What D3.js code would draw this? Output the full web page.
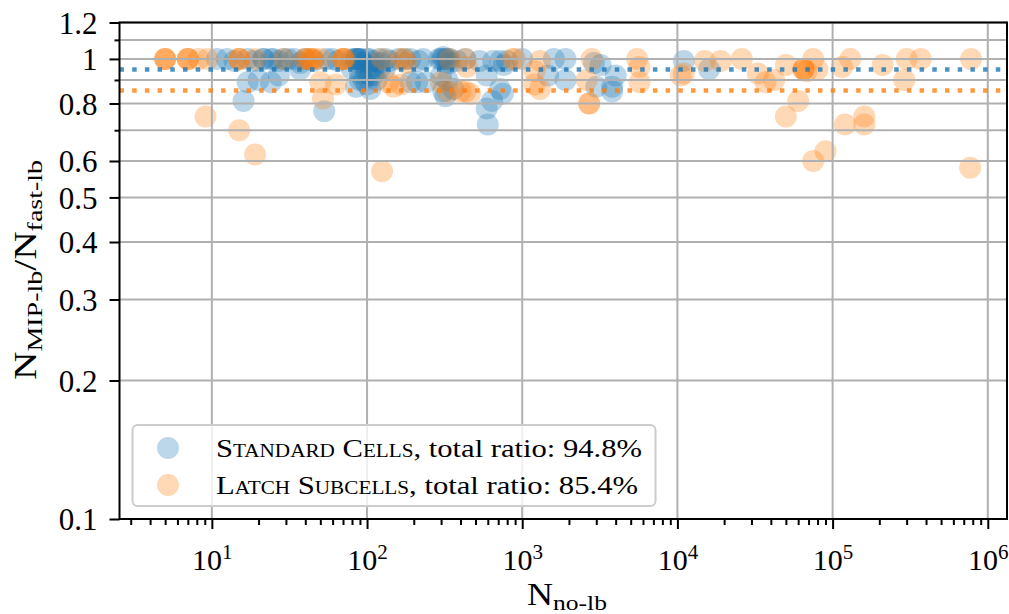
<!DOCTYPE html>
<html>
<head>
<meta charset="utf-8">
<title>MIP-lb / fast-lb ratio</title>
<style>
  body { margin: 0; background: #fff; }
  svg { display: block; font-family: "Liberation Serif", "DejaVu Serif", serif; }
  svg text { font-family: "Liberation Serif", "DejaVu Serif", serif; fill: #000; }
  .grid line { stroke: #b0b0b0; stroke-width: 2; }
  .axis path { display: none; }
  .axis line { stroke: #000; stroke-width: 2; }
</style>
</head>
<body>
<svg id="chart" width="1009" height="614"></svg>
<script src="https://cdn.jsdelivr.net/npm/d3@7/dist/d3.min.js"></script>
<script>
// standard cells: N_no-lb and ratio
var stdX = [10.8, 12.5, 14, 17, 19, 21.5, 21.5, 24, 25, 27, 29, 31, 34, 37, 40, 45, 55, 60, 65,
  80, 85, 85, 88, 90, 95, 100, 103, 110, 120, 133, 140, 160, 175, 190, 215, 230, 290, 310, 310,
  330, 340, 380, 430, 530, 650, 720, 760, 800, 1000, 1600, 1900, 2900, 3200, 11000,
  85, 90, 95, 100, 110, 120, 300, 320, 340, 90, 105,
  16, 17, 20, 24, 27, 37, 53, 80, 85, 90, 95, 100, 105, 110, 115, 120, 130, 190, 210, 240,
  300, 310, 320, 330, 360, 590, 590, 600, 640, 720, 750, 1470, 1900, 3000, 3800, 3800, 4000, 16000];
var stdY = [1, 1, 0.99, 1, 0.99, 1, 1, 1, 1, 0.99, 1, 1, 1, 0.98, 1, 0.99, 1, 1, 0.99,
  1, 1, 1, 1, 1, 0.98, 1, 1, 0.99, 1, 1, 0.99, 1, 1, 1, 0.99, 1, 1, 1, 1.01,
  1, 0.98, 0.99, 1, 0.99, 0.99, 0.99, 0.97, 0.99, 1, 1, 1, 0.98, 0.97, 0.99,
  1, 1, 0.96, 0.93, 0.96, 0.98, 1, 1, 1, 0.9, 0.92,
  0.81, 0.89, 0.9, 0.89, 0.92, 0.95, 0.77, 0.95, 0.87, 0.93, 0.9, 0.88, 0.86, 0.92, 0.9, 0.95, 0.95, 0.89, 0.89, 0.89,
  0.92, 0.85, 0.83, 0.9, 0.86, 0.92, 0.78, 0.72, 0.81, 0.86, 0.84, 0.92, 0.9, 0.87, 0.87, 0.85, 0.92, 0.95];

// latch subcells
var latchX = [5, 5, 5, 7, 7, 7, 8.2, 9.4, 15, 15, 15, 19, 29, 40, 40, 43, 43, 45, 45, 50, 70, 70, 70, 72,
  125, 165, 175, 180, 340, 430, 440, 870, 900, 1300, 2800, 5500, 15000, 19000, 26000,
  75000, 130000, 300000, 370000, 780000,
  9.1, 15, 19, 125, 50, 52, 63, 137, 148, 165, 300, 330, 400, 430, 460, 1200, 1200, 1300,
  2600, 2700, 2700, 5700, 5700, 10500, 11000, 33000, 37000, 42000, 50000, 60000, 50000,
  65000, 65000, 65000, 68000, 80000, 90000, 75000, 115000, 120000, 160000, 160000, 210000, 290000, 770000];
var latchY = [1, 1, 1, 1, 1, 1, 1, 1, 1, 1, 1, 1, 1, 1, 1, 1, 1, 1, 1, 1, 1, 1, 1, 1,
  1, 1, 1, 0.98, 1, 1, 0.96, 1, 1, 0.99, 1, 1, 0.99, 0.99, 1,
  1, 1, 1, 1, 1,
  0.75, 0.70, 0.62, 0.57, 0.89, 0.82, 0.88, 0.89, 0.87, 0.88, 0.89, 0.85, 0.85, 0.85, 0.84, 0.94, 0.88, 0.86,
  0.9, 0.8, 0.8, 0.96, 0.89, 0.92, 0.93, 0.93, 0.89, 0.9, 0.97, 0.81, 0.75,
  0.95, 0.95, 0.95, 0.94, 0.95, 0.63, 0.6, 0.96, 0.72, 0.75, 0.72, 0.97, 0.9, 0.58];

var seriesNames = ["Standard Cells", "Latch Subcells"];
var totalRatios = [0.948, 0.854];
var colors = ["#1f77b4", "#ff7f0e"];

var yMajor = [0.1, 0.2, 0.3, 0.4, 0.5, 0.6, 0.8, 1, 1.2];
var yMinor = [0.7, 0.9, 1.1];
var xMajor = [1e1, 1e2, 1e3, 1e4, 1e5, 1e6];

var plotL = 119.5, plotR = 1007, plotT = 22.5, plotB = 519;
var svg = d3.select("#chart");

var x = d3.scaleLog().domain([2.54, 1.33e6]).range([plotL, plotR]);
var y = d3.scaleLog().domain([0.1, 1.2]).range([plotB, plotT]);

var xMinor = [];
for (var e = 0; e <= 6; e++) {
  for (var m = 2; m <= 9; m++) {
    var v = m * Math.pow(10, e);
    if (v > x.domain()[0] && v < x.domain()[1]) xMinor.push(v);
  }
}

// points
var plot = svg.append("g");
[[stdX, stdY], [latchX, latchY]].forEach(function (s, i) {
  plot.append("g")
    .selectAll("circle")
    .data(d3.zip(s[0], s[1]))
    .enter()
    .append("circle")
    .attr("cx", function (d) { return x(d[0]); })
    .attr("cy", function (d) { return y(d[1]); })
    .attr("r", 11)
    .style("fill", colors[i])
    .style("fill-opacity", 0.3);
});

// grid (drawn above the markers like matplotlib)
var grid = svg.append("g").attr("class", "grid");
grid.selectAll(".gx").data(xMajor).enter().append("line")
  .attr("x1", function (d) { return x(d); }).attr("x2", function (d) { return x(d); })
  .attr("y1", plotT).attr("y2", plotB);
grid.selectAll(".gy").data(yMajor.concat(yMinor)).enter().append("line")
  .attr("x1", plotL).attr("x2", plotR)
  .attr("y1", function (d) { return y(d); }).attr("y2", function (d) { return y(d); });

// total ratio lines
svg.append("g").selectAll("line")
  .data(totalRatios)
  .enter()
  .append("line")
  .attr("x1", plotL).attr("x2", plotR)
  .attr("y1", function (d) { return y(d); }).attr("y2", function (d) { return y(d); })
  .style("stroke", function (d, i) { return colors[i]; })
  .style("stroke-opacity", 0.8)
  .style("stroke-width", 4.5)
  .style("stroke-dasharray", "4.5 8.2");

// axes
svg.append("g").attr("class", "axis")
  .attr("transform", "translate(0," + plotB + ")")
  .call(d3.axisBottom(x).tickValues(xMinor).tickSize(6).tickFormat(""));
var xAx = svg.append("g").attr("class", "axis")
  .attr("transform", "translate(0," + plotB + ")")
  .call(d3.axisBottom(x).tickValues(xMajor).tickSize(10).tickFormat(""));
xAx.selectAll(".tick text").remove();
xAx.selectAll(".tick").append("text")
  .attr("y", 51)
  .attr("text-anchor", "middle")
  .style("font-size", "30px")
  .each(function (d) {
    var t = d3.select(this);
    t.append("tspan").text("10");
    t.append("tspan").attr("dy", -11).style("font-size", "21px").text(Math.round(Math.log10(d)));
  });

svg.append("g").attr("class", "axis")
  .attr("transform", "translate(" + plotL + ",0)")
  .call(d3.axisLeft(y).tickValues(yMinor).tickSize(5).tickFormat(""));
var yAx = svg.append("g").attr("class", "axis")
  .attr("transform", "translate(" + plotL + ",0)")
  .call(d3.axisLeft(y).tickValues(yMajor).tickSize(10).tickPadding(12)
    .tickFormat(function (d) { return d3.format("~g")(d); }));
yAx.selectAll(".tick text")
  .style("font-size", "31px")
  .attr("dy", "0.35em");

// frame
svg.append("rect")
  .attr("x", plotL).attr("y", plotT)
  .attr("width", plotR - plotL).attr("height", plotB - plotT)
  .style("fill", "none").style("stroke", "#000").style("stroke-width", 2);

// axis labels (stretched a little: the original font is wider)
var xl = svg.append("text")
  .attr("x", 527).attr("y", 605)
  .attr("textLength", 80).attr("lengthAdjust", "spacingAndGlyphs")
  .style("font-size", "31px");
xl.append("tspan").text("N");
xl.append("tspan").attr("dy", 5).style("font-size", "22px").text("no-lb");

var yl = svg.append("text")
  .attr("transform", "translate(36,380) rotate(-90)")
  .attr("textLength", 220).attr("lengthAdjust", "spacingAndGlyphs")
  .style("font-size", "31px");
yl.append("tspan").text("N");
yl.append("tspan").attr("dy", 6).style("font-size", "22px").text("MIP-lb");
yl.append("tspan").attr("dy", -6).text("/N");
yl.append("tspan").attr("dy", 6).style("font-size", "22px").text("fast-lb");

// legend
var legendWidths = [426, 422];
var lg = svg.append("g");
lg.append("rect")
  .attr("x", 132.5).attr("y", 425)
  .attr("width", 523).attr("height", 81)
  .attr("rx", 5)
  .style("fill", "#fff").style("fill-opacity", 0.8)
  .style("stroke", "#cccccc").style("stroke-width", 2);
seriesNames.forEach(function (name, i) {
  var cy = 448 + i * 37;
  lg.append("circle")
    .attr("cx", 168).attr("cy", cy).attr("r", 11)
    .style("fill", colors[i]).style("fill-opacity", 0.3);
  var t = lg.append("text")
    .attr("x", 216).attr("y", cy + 9)
    .attr("textLength", legendWidths[i]).attr("lengthAdjust", "spacingAndGlyphs")
    .style("font-size", "26px");
  t.append("tspan").style("font-variant", "small-caps").text(name);
  t.append("tspan").text(", total ratio: " + d3.format(".1f")(totalRatios[i] * 100) + "%");
});
</script>
</body>
</html>
